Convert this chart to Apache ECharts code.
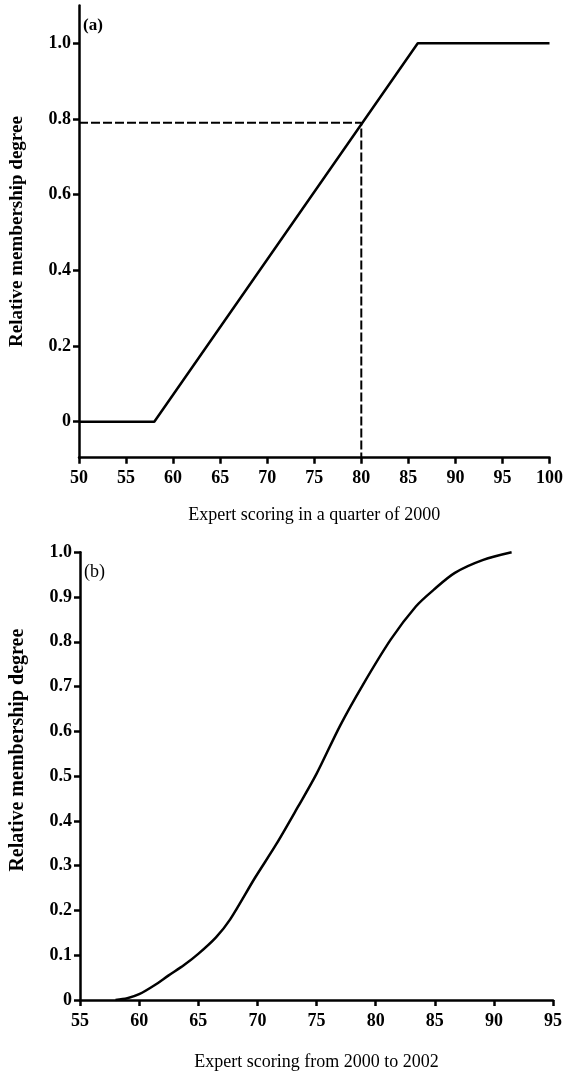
<!DOCTYPE html>
<html>
<head>
<meta charset="utf-8">
<script src="https://cdn.jsdelivr.net/npm/echarts@6/dist/echarts.min.js"></script>
<style>
html,body{margin:0;padding:0;background:#fff;}
#c{width:566px;height:1072px;}
</style>
</head>
<body>
<div id="c"></div>
<script>
// ---- data ----
const aScores = [50, 58, 86, 100];
const aDegree = [0, 0, 1, 1];
const aRefScore = 80;
const aRefDegree = 0.79;
const aTicksY = [0, 0.2, 0.4, 0.6, 0.8, 1.0];

const bScores = [58, 59, 60, 61.3, 62.5, 63.8, 65, 66.5, 67.7, 69.8, 71.6, 73.4, 75, 77, 78.9, 81.3, 83.4, 84.9, 86.7, 89.1, 91.5];
const bDegree = [0, 0.004, 0.013, 0.033, 0.055, 0.078, 0.103, 0.14, 0.18, 0.273, 0.348, 0.43, 0.505, 0.613, 0.703, 0.806, 0.879, 0.916, 0.954, 0.983, 1.0];

const labelA = '(a)';
const labelB = '(b)';
const xNameA = 'Expert scoring in a quarter of 2000';
const xNameB = 'Expert scoring from 2000 to 2002';
const yName = 'Relative membership degree';

const aYMin = -0.095, aYMax = 1.1;

const FONT = 'Liberation Serif';
const chart = echarts.init(document.getElementById('c'), null, {renderer: 'canvas'});

function fmt(v){ return v === 0 ? '0' : v.toFixed(1); }

const axisCommon = {
  axisLine: {onZero: false, lineStyle: {color: '#000', width: 2.5}},
  axisTick: {show: true, inside: false, length: 6, lineStyle: {color: '#000', width: 2.5}},
  splitLine: {show: false},
  axisLabel: {color: '#000', fontFamily: FONT, fontSize: 18, fontWeight: 'bold'}
};

const option = {
  animation: false,
  backgroundColor: '#fff',
  grid: [
    {left: 74, width: 479, top: 5.4, height: 452.3},
    {left: 74, width: 479, top: 552.3, height: 451.2}
  ],
  xAxis: [
    Object.assign({}, axisCommon, {
      type: 'value', gridIndex: 0, min: 50, max: 100, interval: 5,
      name: xNameA, nameLocation: 'middle', nameGap: 49,
      nameTextStyle: {color: '#000', fontFamily: FONT, fontSize: 18},
      axisLabel: Object.assign({}, axisCommon.axisLabel, {margin: 12})
    }),
    Object.assign({}, axisCommon, {
      type: 'value', gridIndex: 1, min: 55, max: 95, interval: 5,
      name: xNameB, nameLocation: 'middle', nameGap: 53,
      nameTextStyle: {color: '#000', fontFamily: FONT, fontSize: 18},
      axisLabel: Object.assign({}, axisCommon.axisLabel, {margin: 12})
    })
  ],
  yAxis: [
    Object.assign({}, axisCommon, {
      type: 'value', gridIndex: 0, min: aYMin, max: aYMax,
      axisTick: Object.assign({}, axisCommon.axisTick, {customValues: aTicksY}),
      axisLabel: Object.assign({}, axisCommon.axisLabel, {customValues: aTicksY, formatter: fmt, margin: 8}),
      name: yName, nameLocation: 'middle', nameGap: 52, nameRotate: 90,
      nameTextStyle: {color: '#000', fontFamily: FONT, fontSize: 19, fontWeight: 'bold'}
    }),
    Object.assign({}, axisCommon, {
      type: 'value', gridIndex: 1, min: 0, max: 1, interval: 0.1,
      axisLabel: Object.assign({}, axisCommon.axisLabel, {formatter: fmt, margin: 8}),
      name: yName, nameLocation: 'middle', nameGap: 52, nameRotate: 90,
      nameTextStyle: {color: '#000', fontFamily: FONT, fontSize: 20, fontWeight: 'bold', padding: [0, 0, 0, 52]}
    })
  ],
  graphic: [
    {type: 'text', left: 83, top: 17, style: {text: labelA, font: 'bold 17px "Liberation Serif"', fill: '#000'}},
    {type: 'text', left: 84, top: 563, style: {text: labelB, font: '18px "Liberation Serif"', fill: '#000'}}
  ],
  series: [
    {
      type: 'line', xAxisIndex: 0, yAxisIndex: 0, showSymbol: false, symbol: 'none',
      data: aScores.map((x, i) => [x, aDegree[i]]),
      lineStyle: {color: '#000', width: 2.5}
    },
    {
      type: 'line', xAxisIndex: 0, yAxisIndex: 0, showSymbol: false, symbol: 'none',
      data: [[aScores[0], aRefDegree], [aRefScore, aRefDegree], [aRefScore, aYMin]],
      lineStyle: {color: '#000', width: 2, type: [9, 3]}
    },
    {
      type: 'line', xAxisIndex: 1, yAxisIndex: 1, showSymbol: false, symbol: 'none', smooth: 0.3,
      data: bScores.map((x, i) => [x, bDegree[i]]),
      lineStyle: {color: '#000', width: 2.5}
    }
  ]
};
chart.setOption(option);
</script>
</body>
</html>
